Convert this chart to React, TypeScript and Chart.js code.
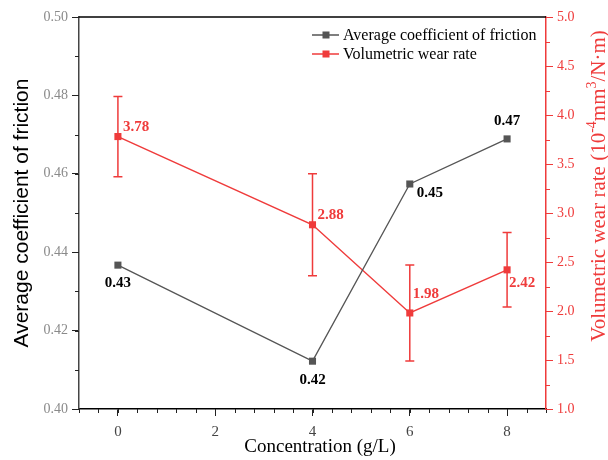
import React, { useEffect, useRef } from "react";
import { Chart, registerables } from "chart.js";

Chart.register(...registerables);

const concentration = [0, 4, 6, 8];
const friction = [0.4367, 0.4122, 0.4574, 0.4689];
const frictionLabels = ["0.43", "0.42", "0.45", "0.47"];
const wear = [3.78, 2.88, 1.98, 2.42];
const wearError = [0.41, 0.52, 0.49, 0.38];
const wearLabels = ["3.78", "2.88", "1.98", "2.42"];
const xTicks = [0, 2, 4, 6, 8];
const seriesNames = ["Average coefficient of friction", "Volumetric wear rate"];

const GRAY = "#555555";
const RED = "#ef3b3b";
const SERIF = "'Liberation Serif', 'DejaVu Serif', serif";
const SANS = "'Liberation Sans', Arial, sans-serif";

// label offsets per point (style only)
const fricOff = [
  { dx: 0, dy: 18, align: "center" },
  { dx: 0, dy: 19, align: "center" },
  { dx: 7, dy: 9, align: "left" },
  { dx: 0, dy: -18, align: "center" },
];
const wearOff = [
  { dx: 5, dy: -9, align: "left" },
  { dx: 5, dy: -10, align: "left" },
  { dx: 3, dy: -19, align: "left" },
  { dx: 2, dy: 13, align: "left" },
];

const overlay = {
  id: "overlay",
  beforeDatasetsDraw(chart: any) {
    const ctx = chart.ctx;
    const y1 = chart.scales.y1;
    const meta = chart.getDatasetMeta(1);
    ctx.save();
    ctx.strokeStyle = RED;
    ctx.lineWidth = 1.5;
    meta.data.forEach((pt: any, i: number) => {
      const top = y1.getPixelForValue(wear[i] + wearError[i]);
      const bot = y1.getPixelForValue(wear[i] - wearError[i]);
      ctx.beginPath();
      ctx.moveTo(pt.x, top);
      ctx.lineTo(pt.x, bot);
      ctx.moveTo(pt.x - 4.5, top);
      ctx.lineTo(pt.x + 4.5, top);
      ctx.moveTo(pt.x - 4.5, bot);
      ctx.lineTo(pt.x + 4.5, bot);
      ctx.stroke();
    });
    ctx.restore();
  },
  afterDraw(chart: any) {
    const ctx = chart.ctx;
    const { left, right, top, bottom } = chart.chartArea;
    const xs = chart.scales.x;
    const ys = chart.scales.y;
    const y1 = chart.scales.y1;
    ctx.save();
    // top frame
    ctx.strokeStyle = "#000";
    ctx.lineWidth = 1.5;
    ctx.beginPath();
    ctx.moveTo(left, top);
    ctx.lineTo(right, top);
    ctx.stroke();
    // minor ticks
    ctx.lineWidth = 1;
    ctx.strokeStyle = "#222";
    ctx.beginPath();
    for (let i = 0; i <= 24; i++) {
      const v = -0.8 + i * 0.4;
      const px = Math.round(xs.getPixelForValue(v)) + 0.5;
      ctx.moveTo(px, bottom);
      ctx.lineTo(px, bottom + 4);
    }
    for (let i = 0; i <= 10; i++) {
      const v = 0.4 + i * 0.01;
      const py = Math.round(ys.getPixelForValue(v)) + 0.5;
      ctx.moveTo(left, py);
      ctx.lineTo(left - 4, py);
    }
    ctx.stroke();
    ctx.strokeStyle = RED;
    ctx.beginPath();
    for (let i = 0; i <= 16; i++) {
      const v = 1 + i * 0.25;
      const py = Math.round(y1.getPixelForValue(v)) + 0.5;
      ctx.moveTo(right, py);
      ctx.lineTo(right + 4, py);
    }
    ctx.stroke();

    // data labels
    ctx.font = `bold 15px ${SERIF}`;
    ctx.textBaseline = "middle";
    ctx.fillStyle = "#000";
    chart.getDatasetMeta(0).data.forEach((pt: any, i: number) => {
      const o = fricOff[i];
      ctx.textAlign = o.align;
      ctx.fillText(frictionLabels[i], pt.x + o.dx, pt.y + o.dy);
    });
    ctx.fillStyle = RED;
    chart.getDatasetMeta(1).data.forEach((pt: any, i: number) => {
      const o = wearOff[i];
      ctx.textAlign = o.align;
      ctx.fillText(wearLabels[i], pt.x + o.dx, pt.y + o.dy);
    });

    // legend
    const legendColors = [GRAY, RED];
    ctx.font = `16px ${SERIF}`;
    ctx.textAlign = "left";
    legendColors.forEach((c, i) => {
      const ly = 35 + i * 19;
      ctx.strokeStyle = c;
      ctx.lineWidth = 1.5;
      ctx.beginPath();
      ctx.moveTo(312, ly);
      ctx.lineTo(339, ly);
      ctx.stroke();
      ctx.fillStyle = c;
      ctx.fillRect(322.5, ly - 3.5, 7, 7);
      ctx.fillStyle = "#000";
      ctx.fillText(seriesNames[i], 343, ly + 1);
    });

    // axis titles
    ctx.fillStyle = "#000";
    ctx.font = `21px ${SANS}`;
    ctx.textAlign = "center";
    ctx.save();
    ctx.translate(22, 213);
    ctx.rotate(-Math.PI / 2);
    ctx.fillText("Average coefficient of friction", 0, 0);
    ctx.restore();

    ctx.font = `19px ${SERIF}`;
    ctx.fillText("Concentration (g/L)", 320, 447);

    // right title with superscripts
    const parts = [
      { t: "Volumetric wear rate (10", sup: false },
      { t: "-4", sup: true },
      { t: "mm", sup: false },
      { t: "3", sup: true },
      { t: "/N·m)", sup: false },
    ];
    const big = `21px ${SERIF}`;
    const small = `14px ${SERIF}`;
    let total = 0;
    parts.forEach((p) => {
      ctx.font = p.sup ? small : big;
      total += ctx.measureText(p.t).width;
    });
    ctx.save();
    ctx.translate(599, 186);
    ctx.rotate(-Math.PI / 2);
    ctx.fillStyle = RED;
    ctx.textAlign = "left";
    let cx = -total / 2;
    parts.forEach((p) => {
      ctx.font = p.sup ? small : big;
      ctx.fillText(p.t, cx, p.sup ? -7 : 0);
      cx += ctx.measureText(p.t).width;
    });
    ctx.restore();
    ctx.restore();
  },
};

export default function App() {
  const ref = useRef<HTMLCanvasElement | null>(null);
  useEffect(() => {
    if (!ref.current) return;
    const chart = new Chart(ref.current, {
      type: "line",
      data: {
        datasets: [
          {
            label: seriesNames[0],
            data: concentration.map((c, i) => ({ x: c, y: friction[i] })),
            borderColor: GRAY,
            backgroundColor: GRAY,
            borderWidth: 1.3,
            pointStyle: "rect",
            pointRadius: 5,
            pointBorderWidth: 0,
            yAxisID: "y",
          },
          {
            label: seriesNames[1],
            data: concentration.map((c, i) => ({ x: c, y: wear[i] })),
            borderColor: RED,
            backgroundColor: RED,
            borderWidth: 1.5,
            pointStyle: "rect",
            pointRadius: 5,
            pointBorderWidth: 0,
            yAxisID: "y1",
          },
        ],
      },
      options: {
        responsive: false,
        animation: false,
        layout: { padding: { top: 17, left: 0, right: 0, bottom: 0 } },
        plugins: { legend: { display: false }, tooltip: { enabled: false } },
        scales: {
          x: {
            type: "linear",
            min: -0.8,
            max: 8.8,
            afterBuildTicks: (s: any) => {
              s.ticks = xTicks.map((v) => ({ value: v }));
            },
            afterFit: (s: any) => {
              s.height = 51;
            },
            grid: { drawOnChartArea: false, drawTicks: true, tickLength: 7, color: "#222" },
            border: { color: "#000", width: 1.5 },
            ticks: {
              color: "#444",
              font: { family: SERIF, size: 15 },
              padding: 7,
              maxRotation: 0,
            },
          },
          y: {
            position: "left",
            min: 0.4,
            max: 0.5,
            ticks: {
              stepSize: 0.02,
              color: "#8a8a8a",
              font: { family: SERIF, size: 14 },
              padding: 4,
              callback: (v: any) => Number(v).toFixed(2),
            },
            afterFit: (s: any) => {
              s.width = 79;
            },
            grid: { drawOnChartArea: false, drawTicks: true, tickLength: 7, color: "#222" },
            border: { color: "#444", width: 1.5 },
          },
          y1: {
            position: "right",
            min: 1,
            max: 5,
            ticks: {
              stepSize: 0.5,
              color: RED,
              font: { family: SERIF, size: 14 },
              padding: 4,
              callback: (v: any) => Number(v).toFixed(1),
            },
            afterFit: (s: any) => {
              s.width = 62;
            },
            grid: { drawOnChartArea: false, drawTicks: true, tickLength: 7, color: RED },
            border: { color: RED, width: 1.5 },
          },
        },
      },
      plugins: [overlay],
    });
    return () => chart.destroy();
  }, []);
  return (
    <div style={{ position: "absolute", left: 0, top: 0, width: 608, height: 460, background: "#fff" }}>
      <canvas ref={ref} width={608} height={460} style={{ display: "block" }} />
    </div>
  );
}
